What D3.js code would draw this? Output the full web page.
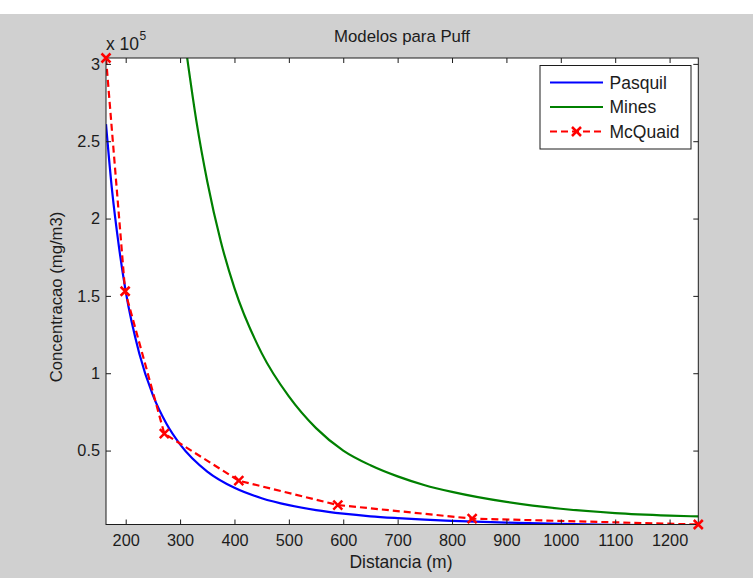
<!DOCTYPE html>
<html>
<head>
<meta charset="utf-8">
<script src="https://cdn.jsdelivr.net/npm/d3@7"></script>
<style>
  html, body { margin: 0; padding: 0; background: #ffffff; }
  svg { display: block; font-family: "Liberation Sans", Arial, sans-serif; }
</style>
</head>
<body>
<svg id="chart" width="753" height="578"></svg>
<script>
// Distance (m) and concentration (mg/m3) for each puff model
const pasquilX = [163.8, 175, 187.5, 200, 225, 250, 275, 300, 350, 400, 450, 500, 550, 600, 650, 700, 750, 800, 900, 1000, 1100, 1252.8];
const pasquilY = [261000, 218000, 182000, 153000, 112800, 85800, 67300, 54000, 36400, 25900, 19200, 14700, 11500, 9200, 7500, 6300, 5300, 4600, 3400, 2600, 2000, 1500];

const minesX = [313, 330, 350, 375, 400, 450, 500, 550, 600, 650, 700, 750, 800, 900, 1000, 1100, 1200, 1252.8];
const minesY = [304000, 263000, 224000, 185000, 155000, 113000, 85000, 64500, 50000, 40500, 33300, 27600, 23300, 16800, 12400, 9600, 8000, 7400];

const mcquaidX = [163.8, 199, 271, 408, 590, 837, 1252.8];
const mcquaidY = [303800, 153000, 61000, 30500, 14800, 6000, 2200];

const xTicks = [200, 300, 400, 500, 600, 700, 800, 900, 1000, 1100, 1200];
const yTicks = [50000, 100000, 150000, 200000, 250000, 300000];

const seriesNames = ["Pasquil", "Mines", "McQuaid"];
const seriesColors = ["#0000ff", "#008000", "#ff0000"];

const W = 753, H = 578;
const plot = { left: 106, right: 698.3, top: 58, bottom: 524.5 };
const ink = "#1c1c1c";

const svg = d3.select("#chart");

// figure background
svg.append("rect").attr("x", 0).attr("y", 14).attr("width", W).attr("height", H - 14).attr("fill", "#d0d0d0");
// axes background
svg.append("rect")
  .attr("x", plot.left).attr("y", plot.top)
  .attr("width", plot.right - plot.left).attr("height", plot.bottom - plot.top)
  .attr("fill", "#ffffff");

const x = d3.scaleLinear().domain([163.8, 1252.8]).range([plot.left, plot.right]);
const y = d3.scaleLinear().domain([2200, 303800]).range([plot.bottom, plot.top]);

svg.append("defs").append("clipPath").attr("id", "plotClip")
  .append("rect")
  .attr("x", plot.left).attr("y", plot.top)
  .attr("width", plot.right - plot.left).attr("height", plot.bottom - plot.top);

const smoothLine = d3.line().x(d => x(d[0])).y(d => y(d[1])).curve(d3.curveMonotoneX);
const straightLine = d3.line().x(d => x(d[0])).y(d => y(d[1]));

const lines = svg.append("g").attr("clip-path", "url(#plotClip)");

lines.append("path")
  .datum(d3.zip(pasquilX, pasquilY))
  .attr("d", smoothLine)
  .attr("fill", "none").attr("stroke", seriesColors[0]).attr("stroke-width", 2.2);

lines.append("path")
  .datum(d3.zip(minesX, minesY))
  .attr("d", smoothLine)
  .attr("fill", "none").attr("stroke", seriesColors[1]).attr("stroke-width", 2.2);

lines.append("path")
  .datum(d3.zip(mcquaidX, mcquaidY))
  .attr("d", straightLine)
  .attr("fill", "none").attr("stroke", seriesColors[2]).attr("stroke-width", 2.2)
  .attr("stroke-dasharray", "7,4");

// axes with inward ticks on all four sides
const fmtY = v => d3.format("~g")(v / 1e5);

const gx = svg.append("g").attr("transform", `translate(0,${plot.bottom})`)
  .call(d3.axisBottom(x).tickValues(xTicks).tickSize(-5).tickPadding(10).tickFormat(d3.format("d")));
const gxTop = svg.append("g").attr("transform", `translate(0,${plot.top})`)
  .call(d3.axisTop(x).tickValues(xTicks).tickSize(-5).tickFormat(""));
const gy = svg.append("g").attr("transform", `translate(${plot.left},0)`)
  .call(d3.axisLeft(y).tickValues(yTicks).tickSize(-5).tickPadding(6).tickFormat(fmtY));
const gyRight = svg.append("g").attr("transform", `translate(${plot.right},0)`)
  .call(d3.axisRight(y).tickValues(yTicks).tickSize(-5).tickFormat(""));

[gx, gxTop, gy, gyRight].forEach(g => {
  g.select(".domain").remove();
  g.selectAll(".tick line").attr("stroke", ink).attr("stroke-width", 1);
  g.selectAll(".tick text").attr("fill", ink).attr("font-size", 16.3)
    .attr("font-family", "'Liberation Sans', Arial, sans-serif");
});

// axes box
svg.append("rect")
  .attr("x", plot.left).attr("y", plot.top)
  .attr("width", plot.right - plot.left).attr("height", plot.bottom - plot.top)
  .attr("fill", "none").attr("stroke", ink).attr("stroke-width", 1);

// McQuaid markers
const markerPath = (cx, cy, r) => `M${cx - r},${cy - r}L${cx + r},${cy + r}M${cx - r},${cy + r}L${cx + r},${cy - r}`;
svg.append("g").selectAll("path")
  .data(d3.zip(mcquaidX, mcquaidY))
  .join("path")
  .attr("d", d => markerPath(x(d[0]), y(d[1]), 4.5))
  .attr("stroke", seriesColors[2]).attr("stroke-width", 2.5).attr("fill", "none");

// exponent label
const expo = svg.append("text").attr("x", 106).attr("y", 49.5)
  .attr("font-size", 17.5).attr("fill", ink);
expo.append("tspan").text("x 10");
expo.append("tspan").attr("font-size", 12).attr("dy", -10).attr("dx", 0.5).text("5");

// title and axis labels
svg.append("text").attr("x", 402).attr("y", 41.5).attr("text-anchor", "middle")
  .attr("font-size", 16.8).attr("fill", ink).text("Modelos para Puff");
svg.append("text").attr("x", 401).attr("y", 567.5).attr("text-anchor", "middle")
  .attr("font-size", 17.5).attr("fill", ink).text("Distancia (m)");
svg.append("text").attr("transform", "translate(61.5,297) rotate(-90)").attr("text-anchor", "middle")
  .attr("font-size", 16.7).attr("fill", ink).text("Concentracao (mg/m3)");

// legend
const legend = svg.append("g");
legend.append("rect").attr("x", 540).attr("y", 65.5).attr("width", 151).attr("height", 83.5)
  .attr("fill", "#ffffff").attr("stroke", ink).attr("stroke-width", 1);
const rowY = [82.5, 107, 131.5];
seriesNames.forEach((name, i) => {
  const ln = legend.append("line")
    .attr("x1", 550).attr("x2", 603).attr("y1", rowY[i]).attr("y2", rowY[i])
    .attr("stroke", seriesColors[i]).attr("stroke-width", 2.2);
  if (i === 2) {
    ln.attr("stroke-dasharray", "7,4");
    legend.append("path").attr("d", markerPath(576.5, rowY[i], 4.5))
      .attr("stroke", seriesColors[i]).attr("stroke-width", 2.5).attr("fill", "none");
  }
  legend.append("text").attr("x", 609.5).attr("y", rowY[i]).attr("dy", "0.36em")
    .attr("font-size", 17.5).attr("fill", ink).text(name);
});
</script>
</body>
</html>
